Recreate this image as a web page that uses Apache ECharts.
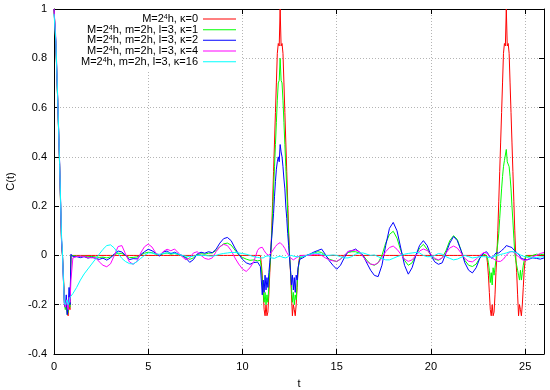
<!DOCTYPE html>
<html><head><meta charset="utf-8">
<script src="https://cdn.jsdelivr.net/npm/echarts@6/dist/echarts.min.js"></script>
<style>html,body{margin:0;padding:0;background:#fff}#c{width:550px;height:390px}</style>
</head><body><div id="c"></div>
<script>
// time grid (shared by all series)
const tValues = [
0,0.1,0.2,0.3,0.4,0.45,0.5,0.55,0.6,0.65,0.7,0.75,0.8,0.85,0.9,1.0,
1.2,1.4,1.6,1.8,2.0,2.2,2.4,2.6,2.8,3.0,3.2,3.4,3.6,3.8,4.0,4.2,4.4,4.6,4.8,5.0,5.2,5.4,5.6,5.8,6.0,6.2,6.4,6.6,6.8,7.0,7.2,7.4,7.6,7.8,8.0,8.2,8.4,8.6,8.8,9.0,9.2,9.4,9.6,9.8,10.0,10.2,10.4,10.6,10.8,
10.9,10.95,11.0,11.05,11.1,11.15,11.2,11.25,11.3,11.35,11.4,11.45,11.5,11.55,11.6,11.65,11.7,11.75,11.8,11.85,11.9,11.95,12.0,12.05,12.1,12.15,12.2,12.25,12.3,12.35,12.4,12.45,12.5,12.55,12.6,12.65,12.7,12.75,12.8,12.85,12.9,12.95,13.0,13.05,13.1,
13.2,13.4,13.6,13.8,14.0,14.2,14.4,14.6,14.8,15.0,15.2,15.4,15.6,15.8,16.0,16.2,16.4,16.6,16.8,17.0,17.2,17.4,17.6,17.8,18.0,18.2,18.4,18.6,18.8,19.0,19.2,19.4,19.6,19.8,20.0,20.2,20.4,20.6,20.8,21.0,21.2,21.4,21.6,21.8,22.0,22.2,22.4,22.6,22.8,
22.9,22.95,23.0,23.05,23.1,23.15,23.2,23.25,23.3,23.35,23.4,23.45,23.5,23.55,23.6,23.65,23.7,23.75,23.8,23.85,23.9,23.95,24.0,24.05,24.1,24.15,24.2,24.25,24.3,24.35,24.4,24.45,24.5,24.55,24.6,24.65,24.7,24.75,24.8,24.85,24.9,24.95,25.0,25.05,25.1,
25.2,25.4,25.6,25.8,26.0
];

const kappa0 = [
1.0,0.85,0.62,0.36,0.05,0.0,-0.08,-0.18,-0.21,-0.2,-0.23,-0.245,-0.2,-0.22,0.0,0.0,
0,0,0,0,0,0,0,0,0,0,0,0,0,0,0,0,0,0,0,0,0,0,0,0,0,0,0,0,0,0,0,0,0,0,0,0,0,0,0,0,0,0,0,0,0,0,0,0,0,
0,0,-0.03,-0.08,-0.15,-0.22,-0.245,-0.2,-0.245,-0.23,-0.16,-0.07,0.0,0.1,0.22,0.34,0.46,0.58,0.7,0.82,0.86,0.85,1.0,0.85,0.86,0.82,0.7,0.58,0.46,0.34,0.22,0.1,0.0,-0.07,-0.16,-0.245,-0.2,-0.22,-0.245,-0.2,-0.13,-0.06,-0.02,0,0,
0,0,0,0,0,0,0,0,0,0,0,0,0,0,0,0,0,0,0,0,0,0,0,0,0,0,0,0,0,0,0,0,0,0,0,0,0,0,0,0,0,0,0,0,0,0,0,0,0,
0,0,-0.03,-0.08,-0.15,-0.22,-0.245,-0.2,-0.245,-0.23,-0.16,-0.07,0.0,0.1,0.22,0.34,0.46,0.58,0.7,0.82,0.86,0.85,1.0,0.85,0.86,0.82,0.7,0.58,0.46,0.34,0.22,0.1,0.0,-0.07,-0.16,-0.245,-0.2,-0.22,-0.245,-0.2,-0.13,-0.06,-0.02,0,0,
0,0,0,0,0
];

const kappa1 = [
1.0,0.86,0.62,0.36,0.06,0.0,-0.09,-0.19,-0.22,-0.18,-0.24,-0.23,-0.2,-0.21,0.0,-0.003,
-0.003,-0.004,-0.003,-0.005,-0.004,-0.006,-0.008,-0.007,-0.01,-0.006,0.003,0.009,0.008,0.0,-0.009,-0.008,-0.006,0.002,0.009,0.013,0.011,0.005,0.0,0.007,0.01,0.005,0.008,0.004,-0.002,-0.008,-0.016,-0.01,0.003,0.007,0.005,0.009,0.01,0.02,0.035,0.047,0.05,0.042,0.022,0.002,-0.008,-0.015,-0.02,-0.018,-0.022,
-0.02,-0.02,-0.05,-0.1,-0.15,-0.19,-0.15,-0.2,-0.16,-0.19,-0.12,-0.05,0.0,0.08,0.17,0.27,0.36,0.45,0.54,0.63,0.7,0.71,0.8,0.71,0.7,0.63,0.54,0.45,0.36,0.27,0.17,0.08,0.0,-0.06,-0.13,-0.19,-0.15,-0.2,-0.16,-0.18,-0.12,-0.06,-0.03,-0.01,-0.005,
-0.005,0.0,0.005,0.01,0.015,0.012,0.0,-0.015,-0.02,-0.025,-0.015,0.0,0.012,0.015,0.015,0.01,0.0,-0.02,-0.035,-0.04,-0.03,0.0,0.05,0.085,0.098,0.07,0.02,-0.02,-0.04,-0.03,0.0,0.03,0.045,0.025,0.0,-0.015,-0.02,-0.01,0.02,0.06,0.08,0.065,0.02,-0.02,-0.04,-0.045,-0.035,-0.01,0.005,
0.005,0.0,-0.01,-0.03,-0.06,-0.11,-0.07,-0.12,-0.05,-0.08,-0.05,-0.02,0.02,0.05,0.09,0.15,0.21,0.27,0.32,0.36,0.385,0.38,0.43,0.38,0.385,0.36,0.32,0.27,0.2,0.14,0.07,0.01,-0.02,-0.04,-0.06,-0.08,-0.1,-0.06,-0.1,-0.07,-0.04,-0.02,-0.01,0.0,0.005,
-0.005,0.0,0.005,0.003,0.005
];

const kappa2 = [
1.0,0.86,0.62,0.37,0.06,0.0,-0.1,-0.2,-0.21,-0.16,-0.24,-0.21,-0.13,-0.2,0.005,-0.005,
-0.005,-0.009,-0.005,-0.011,-0.007,-0.012,-0.016,-0.011,-0.019,-0.01,0.006,0.018,0.014,0.0,-0.017,-0.013,-0.014,0.003,0.015,0.025,0.019,0.009,-0.003,0.014,0.018,0.007,0.013,0.005,0.0,-0.011,-0.028,-0.017,0.006,0.013,0.009,0.015,0.011,0.025,0.05,0.068,0.073,0.06,0.03,0.005,-0.016,-0.03,-0.036,-0.029,-0.027,
-0.03,-0.045,-0.1,-0.16,-0.1,-0.15,-0.08,-0.14,-0.09,-0.13,-0.07,-0.03,0.02,0.07,0.12,0.17,0.24,0.3,0.35,0.38,0.4,0.38,0.45,0.42,0.4,0.36,0.31,0.27,0.2,0.15,0.09,0.04,-0.01,-0.06,-0.12,-0.08,-0.14,-0.09,-0.15,-0.08,-0.1,-0.05,-0.03,-0.015,-0.01,
-0.01,0.0,0.006,0.014,0.02,0.026,0.004,-0.021,-0.04,-0.056,-0.04,-0.01,0.016,0.019,0.026,0.014,0.0,-0.031,-0.06,-0.081,-0.086,-0.04,0.04,0.11,0.134,0.1,0.03,-0.04,-0.076,-0.05,0.0,0.041,0.06,0.04,0.0,-0.026,-0.036,-0.03,0.01,0.05,0.077,0.06,0.02,-0.03,-0.06,-0.071,-0.05,-0.01,0.01,
0.01,0.015,0.012,0.005,-0.005,-0.01,-0.008,-0.012,-0.005,0.0,0.005,0.01,0.006,0.012,0.01,0.015,0.012,0.02,0.022,0.028,0.03,0.038,0.04,0.044,0.04,0.036,0.038,0.03,0.032,0.025,0.022,0.018,0.02,0.012,0.01,0.004,0.0,-0.008,-0.012,-0.018,-0.02,-0.016,-0.02,-0.015,-0.018,
-0.02,-0.01,-0.012,-0.015,-0.01
];

const kappa4 = [
1.0,0.88,0.63,0.37,0.07,0.005,-0.1,-0.19,-0.21,-0.18,-0.2,-0.22,-0.17,-0.19,-0.1,-0.01,
-0.005,-0.003,-0.005,-0.008,-0.01,-0.008,-0.026,-0.04,-0.046,-0.034,0.0,0.036,0.04,0.005,-0.026,-0.036,-0.024,0.01,0.035,0.046,0.034,0.01,0.0,0.016,0.025,0.019,0.026,0.01,-0.005,-0.018,-0.01,0.01,0.015,0.0,-0.012,-0.016,-0.01,0.015,0.035,0.045,0.04,0.02,-0.01,-0.035,-0.055,-0.065,-0.05,-0.025,0.02,
0.03,0.035,0.036,0.033,0.028,0.02,0.014,0.008,0.004,0.002,0.0,0.003,0.008,0.014,0.02,0.025,0.03,0.036,0.04,0.045,0.047,0.05,0.052,0.05,0.046,0.04,0.035,0.028,0.02,0.012,0.005,0.0,-0.005,-0.01,-0.014,-0.017,-0.018,-0.016,-0.013,-0.01,-0.008,-0.005,-0.003,-0.001,0.0,
0.0,0.0,0.0,0.005,0.005,0.0,-0.01,-0.018,-0.022,-0.024,-0.015,0.0,0.015,0.02,0.022,0.015,-0.005,-0.025,-0.035,-0.038,-0.03,-0.01,0.015,0.032,0.038,0.025,0.005,-0.015,-0.024,-0.018,0.0,0.018,0.026,0.02,0.005,-0.012,-0.018,-0.01,0.01,0.03,0.038,0.03,0.01,-0.012,-0.024,-0.026,-0.015,0.0,0.012,
0.012,0.01,0.006,0.002,-0.002,-0.005,-0.008,-0.01,-0.012,-0.015,-0.018,-0.02,-0.022,-0.024,-0.025,-0.025,-0.024,-0.022,-0.02,-0.015,-0.01,-0.005,0.0,0.005,0.01,0.013,0.015,0.016,0.016,0.015,0.013,0.01,0.006,0.002,-0.002,-0.006,-0.01,-0.013,-0.016,-0.018,-0.02,-0.02,-0.02,-0.019,-0.018,
-0.015,-0.005,0.0,0.008,0.012
];

const kappa16 = [
0.98,0.87,0.63,0.37,0.08,0.01,-0.1,-0.19,-0.2,-0.19,-0.18,-0.2,-0.19,-0.17,-0.17,-0.155,
-0.13,-0.1,-0.075,-0.055,-0.035,-0.015,0.005,0.025,0.04,0.043,0.03,0.008,-0.012,-0.025,-0.033,-0.035,-0.025,-0.012,0.0,0.01,0.01,0.005,0.005,0.008,0.01,0.01,0.008,0.005,0.0,-0.003,-0.005,-0.003,0.0,0.0,0.0,-0.002,-0.003,0.0,0.005,0.008,0.01,0.012,0.012,0.01,0.008,0.005,0.0,-0.005,-0.008,
-0.008,-0.01,-0.008,-0.012,-0.01,-0.008,-0.005,-0.003,0.0,0.0,-0.002,-0.005,-0.008,-0.01,-0.012,-0.01,-0.012,-0.01,-0.008,-0.006,-0.005,-0.004,-0.003,-0.004,-0.006,-0.008,-0.01,-0.012,-0.01,-0.008,-0.006,-0.004,-0.002,0.0,0.0,-0.002,-0.003,-0.004,-0.005,-0.006,-0.005,-0.006,-0.005,-0.006,-0.005,
-0.005,0.0,0.005,0.01,0.008,0.005,0.0,0.0,0.002,0.0,-0.005,-0.01,-0.01,-0.005,0.005,0.01,0.01,0.005,0.0,0.002,-0.005,-0.012,-0.018,-0.018,-0.012,-0.005,0.0,0.005,0.008,0.01,0.012,0.01,0.0,-0.005,-0.005,0.0,0.008,0.005,-0.005,-0.012,-0.018,-0.015,-0.008,0.0,-0.005,-0.01,-0.008,-0.005,-0.005,
-0.005,-0.006,-0.007,-0.008,-0.009,-0.008,-0.007,-0.006,-0.005,-0.004,-0.003,-0.002,0.0,0.001,0.003,0.003,0.004,0.006,0.006,0.007,0.009,0.009,0.01,0.011,0.012,0.014,0.014,0.015,0.016,0.015,0.014,0.013,0.012,0.01,0.008,0.006,0.004,0.002,0.0,-0.002,-0.003,-0.004,-0.005,-0.006,-0.007,
-0.01,-0.01,-0.008,-0.006,-0.005
];

const seriesNames = [
  'M=2⁴h, κ=0',
  'M=2⁴h, m=2h, l=3, κ=1',
  'M=2⁴h, m=2h, l=3, κ=2',
  'M=2⁴h, m=2h, l=3, κ=4',
  'M=2⁴h, m=2h, l=3, κ=16'
];
const seriesValues = [kappa0, kappa1, kappa2, kappa4, kappa16];
const seriesColors = ['#ff0000', '#00ff00', '#0000ff', '#ff00ff', '#00ffff'];
const xTicks = { min: 0, max: 26, interval: 5 };
const yTicks = { min: -0.4, max: 1, interval: 0.2 };

const FONT = 'Liberation Sans, Arial, Helvetica, sans-serif';
const chart = echarts.init(document.getElementById('c'), null, { renderer: 'canvas' });

function legendFmt(name) {
  const parts = name.split('⁴');
  return '{a|' + parts[0] + '}{s|4}{a|' + parts[1] + '}';
}
const legendTops = [13.5, 24.2, 34.8, 45.5, 56.2];

const axisCommon = {
  axisLine: { show: true, onZero: false, lineStyle: { color: '#000', width: 1 } },
  axisTick: { show: true, inside: true, length: 5, lineStyle: { color: '#000', width: 1 } },
  axisLabel: { color: '#000', fontSize: 11, fontFamily: FONT, margin: 7 },
  nameTextStyle: { color: '#000', fontSize: 11, fontFamily: FONT }
};

const option = {
  animation: false,
  backgroundColor: '#fff',
  grid: { left: 54, right: 6, top: 9, bottom: 36, containLabel: false, outerBoundsMode: 'none' },
  graphic: [{
    type: 'rect', left: 55, top: 10, z: 1, silent: true,
    shape: { width: 186, height: 60 }, style: { fill: '#fff' }
  }],
  legend: seriesNames.map((n, i) => ({
    data: [n], right: 314, top: legendTops[i], orient: 'horizontal', align: 'right',
    itemWidth: 33, itemHeight: 1, icon: 'rect', padding: 0, itemGap: 0,
    selectedMode: false, formatter: legendFmt,
    textStyle: {
      color: '#000', fontSize: 11, fontFamily: FONT,
      rich: {
        a: { color: '#000', fontSize: 11, fontFamily: FONT },
        s: { color: '#000', fontSize: 7, fontFamily: FONT, verticalAlign: 'top', lineHeight: 8 }
      }
    }
  })),
  xAxis: [
    Object.assign({}, axisCommon, {
      type: 'value', min: xTicks.min, max: xTicks.max, interval: xTicks.interval,
      name: 't', nameLocation: 'middle', nameGap: 24,
      axisLabel: Object.assign({}, axisCommon.axisLabel, { showMaxLabel: false }),
      splitLine: { show: true, lineStyle: { color: '#b4b4b4', width: 1, type: [1, 2] } }
    }),
    Object.assign({}, axisCommon, {
      type: 'value', position: 'top', min: xTicks.min, max: xTicks.max, interval: xTicks.interval,
      axisLabel: { show: false }, splitLine: { show: false }
    })
  ],
  yAxis: [
    Object.assign({}, axisCommon, {
      type: 'value', min: yTicks.min, max: yTicks.max, interval: yTicks.interval,
      name: 'C(t)', nameLocation: 'middle', nameGap: 38,
      splitLine: { show: true, lineStyle: { color: '#b4b4b4', width: 1, type: [1, 2] } }
    }),
    Object.assign({}, axisCommon, {
      type: 'value', position: 'right', min: yTicks.min, max: yTicks.max, interval: yTicks.interval,
      axisLabel: { show: false }, splitLine: { show: false }
    })
  ],
  series: seriesNames.map((n, i) => ({
    name: n, type: 'line', xAxisIndex: 0, yAxisIndex: 0,
    showSymbol: false, symbol: 'none', clip: true,
    color: seriesColors[i],
    lineStyle: { color: seriesColors[i], width: 1 },
    data: tValues.map((t, j) => [t, seriesValues[i][j]])
  }))
};
chart.setOption(option);
</script>
</body></html>
